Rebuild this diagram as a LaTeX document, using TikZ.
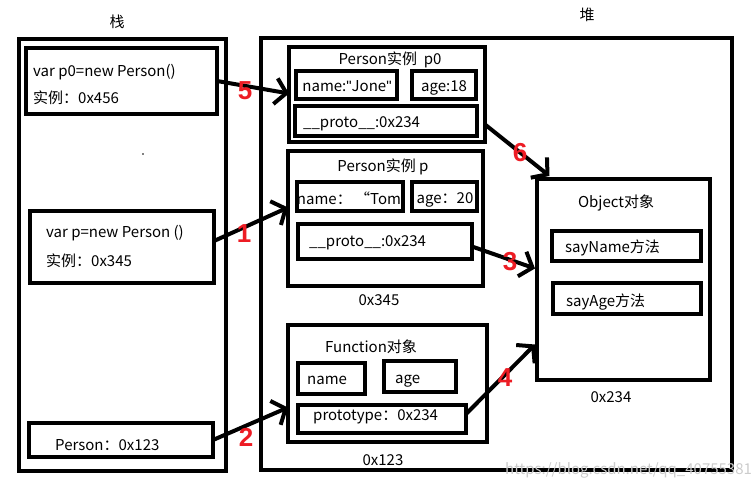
\documentclass[tikz,border=0pt]{standalone}
\usepackage{fontspec}
\setmainfont{Noto Sans CJK SC}
\newfontfamily\numfont{Liberation Sans}
\newfontfamily\qfont{DejaVu Sans}
\usetikzlibrary{arrows.meta}
\definecolor{pred}{RGB}{237,28,36}
\tikzset{
  box/.style={draw, line width=4pt, inner sep=0pt, outer sep=0pt},
  txt/.style={inner sep=0pt, anchor=west, font=\fontsize{15}{17}\selectfont},
  ctxt/.style={inner sep=0pt, font=\fontsize{15}{17}\selectfont},
  ptr/.style={line width=4pt, -{Straight Barb[length=11pt,width=26pt,line width=4pt]}},
  num/.style={inner sep=0pt, text=pred, font=\numfont\bfseries\fontsize{26}{26}\selectfont},
}
\newcommand{\bx}[6]{\node[box, minimum width=#4pt, minimum height=#5pt] (#1) at (#2,#3) {#6};}
\newcommand{\sq}{{\fontspec{Liberation Sans}\symbol{34}}}
\begin{document}
\begin{tikzpicture}[x=1pt,y=-1pt]
\useasboundingbox (0,0) rectangle (756,492);
% labels
\node[ctxt] (lstack) at (117,22) {栈};
\node[ctxt] (lheap) at (587,15) {堆};
% outer boxes
\bx{stack}{122.5}{255}{207}{432}{}
\bx{heap}{496.5}{254}{471}{432}{}
% stack entries
\bx{sp0}{121.5}{81}{191}{66}{}
\node[txt] (sp0a) at (33,72) {var p0=new Person()};
\node[txt] (sp0b) at (33,98) {实例：0x456};
\node[inner sep=0.7pt, fill=black, circle] (dot) at (143,154) {};
\bx{sp}{122}{247}{184}{72}{}
\node[txt] (spa) at (46,233) {var p=new Person ()};
\node[txt] (spb) at (46,261) {实例：0x345};
\bx{spf}{121}{440}{184}{34}{}
\node[txt] (spfa) at (55,445) {Person：0x123};
% heap: Person p0
\bx{hp0}{387}{94.5}{196}{95}{}
\node[ctxt] (hp0t) at (390,60) {Person实例\ \ p0};
\bx{hp0name}{346.5}{85}{101}{28}{}
\node[ctxt] (hp0nt) at (347,86) {name:\sq Jone\sq};
\bx{hp0age}{444}{85}{64}{28}{}
\node[ctxt] (hp0at) at (444,88) {age:18};
\bx{hp0proto}{386}{121}{182}{30}{}
\node[txt] (hp0pt) at (303,124) {\_\_proto\_\_:0x234};
% heap: Person p
\bx{hp}{385.5}{218.5}{195}{135}{}
\node[ctxt] (hpt) at (383,167) {Person实例 p};
\bx{hpname}{350}{196.5}{106}{29}{}
\node[ctxt] (hpnt) at (349,198) {name：\ “Tom};
\bx{hpage}{444.5}{196.5}{65}{29}{}
\node[ctxt] (hpat) at (445,200) {age：20};
\bx{hpproto}{385}{241.5}{174}{35}{}
\node[txt] (hppt) at (309,243) {\_\_proto\_\_:0x234};
\node[ctxt] (hpaddr) at (379,300) {0x345};
% heap: Function
\bx{hf}{387.5}{383.5}{199}{117}{}
\node[txt] (hft) at (325,347) {Function对象};
\bx{hfname}{331.5}{378.5}{67}{31}{}
\node[txt] (hfnt) at (307,380) {name};
\bx{hfage}{420}{376.5}{72}{31}{}
\node[txt] (hfat) at (395,381) {age};
\bx{hfproto}{382}{419}{168}{28}{}
\node[txt] (hfpt) at (313,417) {prototype：0x234};
\node[ctxt] (hfaddr) at (383,460) {0x123};
% heap: Object
\bx{obj}{623.5}{279.5}{173}{201}{}
\node[ctxt] (objt) at (616,203) {Object对象};
\bx{sayname}{626.5}{246}{149}{30}{}
\node[txt] (snt) at (565,248) {sayName方法};
\bx{sayage}{627}{298.5}{148}{31}{}
\node[txt] (sat) at (566,302) {sayAge方法};
\node[ctxt] (objaddr) at (611,397) {0x234};
% watermark
\node[txt, text=black!20] (wm) at (505,470) {https://blog.csdn.net/qq\_40755381};
% pointers
\draw[ptr] (sp0.east) -- ([yshift=1pt]hp0.west);
\draw[ptr] ([yshift=6pt]sp.east) -- ([yshift=11pt]hp.west);
\draw[ptr] (spf.east) -- ([yshift=-24pt]hf.west);
\draw[ptr] ([yshift=-30pt]hp0.east) -- ([xshift=-74pt,yshift=3pt]obj.north);
\draw[ptr] ([yshift=-5pt]hpproto.east) -- ([xshift=-2pt,yshift=11pt]obj.west);
\draw[ptr] ([yshift=5pt]hfproto.east) -- ([xshift=-2pt,yshift=-65pt]obj.west);
% numbers
\node[num] (n5) at (245,91) {5};
\node[num] (n1) at (244,234) {1};
\node[num] (n2) at (246,437) {2};
\node[num] (n6) at (520,153) {6};
\node[num] (n3) at (510,262) {3};
\node[num] (n4) at (505,378) {4};
\end{tikzpicture}
\end{document}
